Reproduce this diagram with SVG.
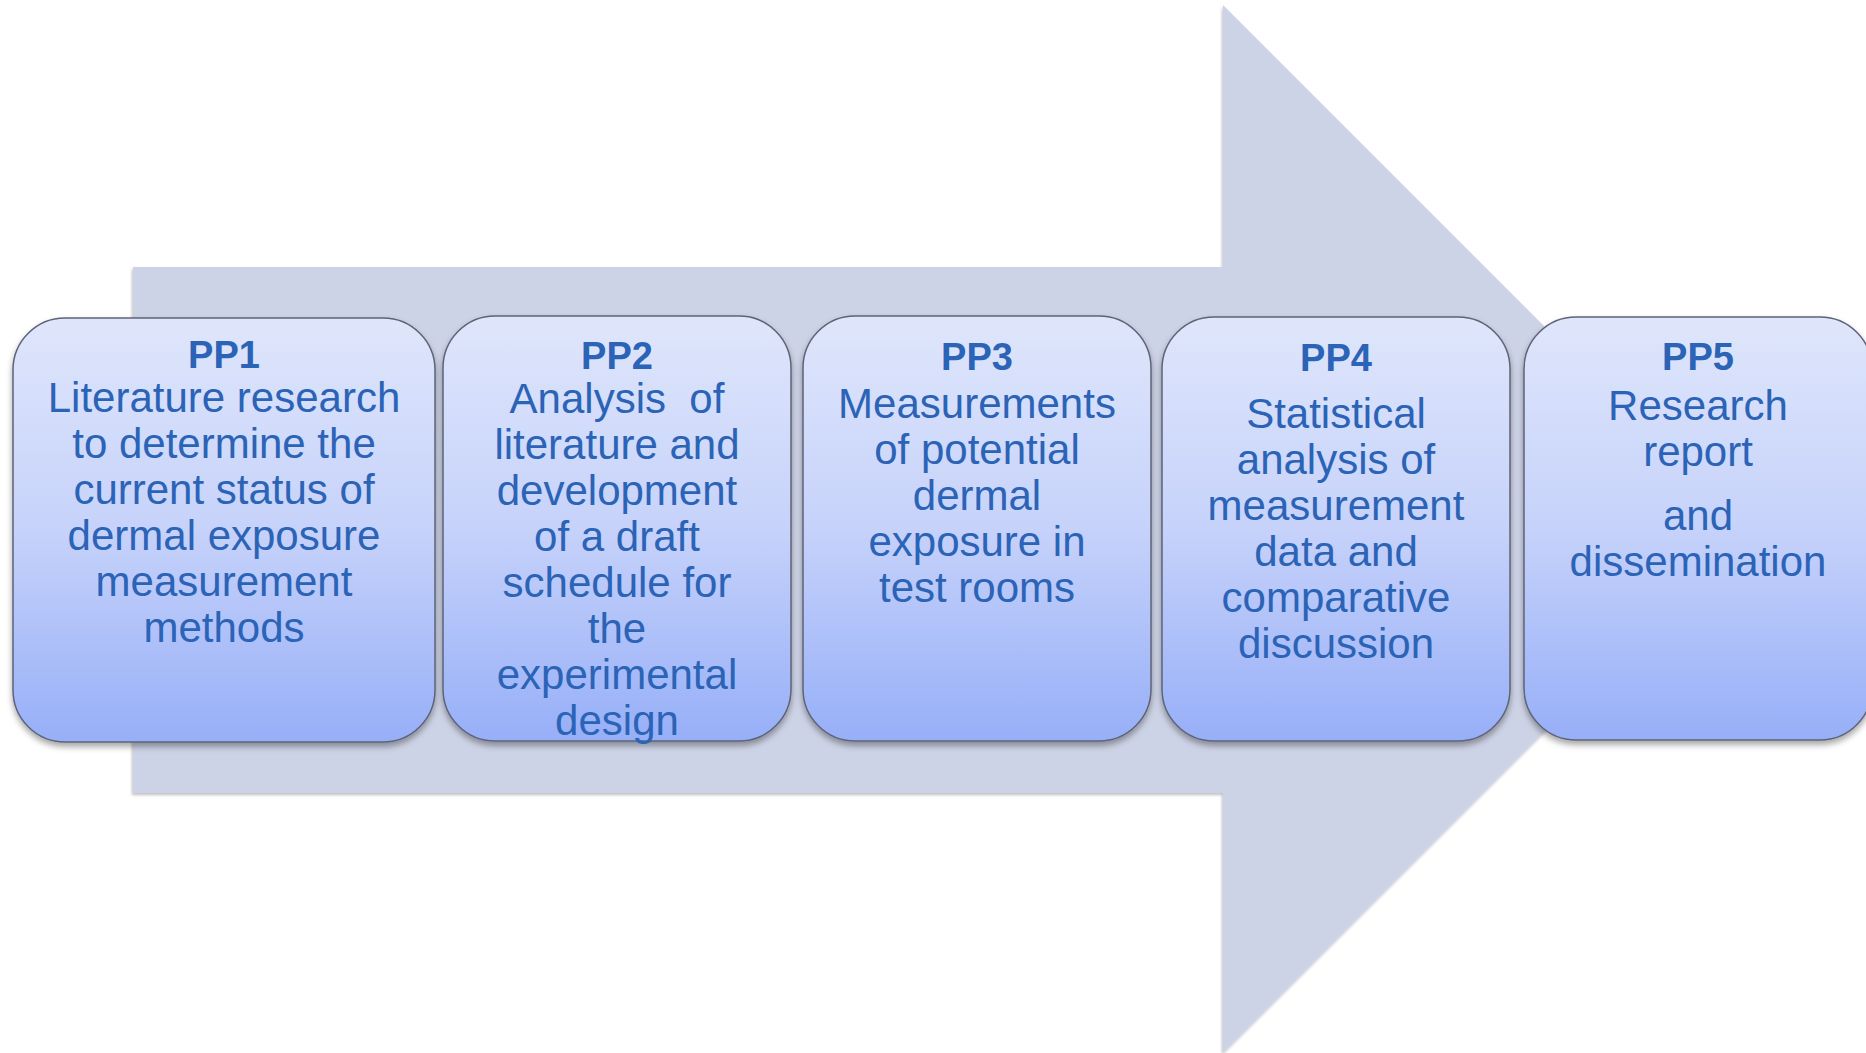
<svg xmlns="http://www.w3.org/2000/svg" width="1866" height="1053" viewBox="0 0 1866 1053">
<defs>
<style>
.box{fill:url(#boxGrad);stroke:#5E6378;stroke-width:1.5;filter:url(#shadow)}
.t{font-family:"Liberation Sans",Arial,sans-serif;fill:#2B63B6;text-anchor:middle}
.title{font-size:38px;font-weight:bold}
.body{font-size:42px}
</style>
<linearGradient id="boxGrad" x1="0" y1="0" x2="0" y2="1">
<stop offset="0" stop-color="#DFE6FB"/>
<stop offset="0.5" stop-color="#C6D2FA"/>
<stop offset="1" stop-color="#97AFF8"/>
</linearGradient>
<filter id="shadow" x="-10%" y="-10%" width="120%" height="125%">
<feDropShadow dx="0" dy="4" stdDeviation="3" flood-color="#000" flood-opacity="0.35"/>
</filter>
<filter id="arrowShadow" x="-5%" y="-5%" width="110%" height="110%">
<feDropShadow dx="-1" dy="2" stdDeviation="1.5" flood-color="#000" flood-opacity="0.25"/>
</filter>
</defs>
<rect width="1866" height="1053" fill="#FFFFFF"/>
<path id="arrow" d="M133,267 L1223,267 L1223,5 L1747,529 L1223,1053 L1223,793 L133,793 Z" fill="#CDD3E6" filter="url(#arrowShadow)"/>
<g id="connectors"></g>
<g id="pp1">
<rect class="box" x="13" y="318" width="422" height="424" rx="52" ry="52"/>
<text class="t title" x="224" y="368">PP1</text>
<text class="t body"><tspan x="224" y="412">Literature research</tspan><tspan x="224" y="458">to determine the</tspan><tspan x="224" y="504">current status of</tspan><tspan x="224" y="550">dermal exposure</tspan><tspan x="224" y="596">measurement</tspan><tspan x="224" y="642">methods</tspan></text>
</g>
<g id="pp2">
<rect class="box" x="443" y="316" width="348" height="425" rx="52" ry="52"/>
<text class="t title" x="617" y="369">PP2</text>
<text class="t body" xml:space="preserve"><tspan x="617" y="413">Analysis  of</tspan><tspan x="617" y="459">literature and</tspan><tspan x="617" y="505">development</tspan><tspan x="617" y="551">of a draft</tspan><tspan x="617" y="597">schedule for</tspan><tspan x="617" y="643">the</tspan><tspan x="617" y="689">experimental</tspan><tspan x="617" y="735">design</tspan></text>
</g>
<g id="pp3">
<rect class="box" x="803" y="316" width="348" height="425" rx="52" ry="52"/>
<text class="t title" x="977" y="370">PP3</text>
<text class="t body"><tspan x="977" y="418">Measurements</tspan><tspan x="977" y="464">of potential</tspan><tspan x="977" y="510">dermal</tspan><tspan x="977" y="556">exposure in</tspan><tspan x="977" y="602">test rooms</tspan></text>
</g>
<g id="pp4">
<rect class="box" x="1162" y="317" width="348" height="424" rx="52" ry="52"/>
<text class="t title" x="1336" y="371">PP4</text>
<text class="t body"><tspan x="1336" y="428">Statistical</tspan><tspan x="1336" y="474">analysis of</tspan><tspan x="1336" y="520">measurement</tspan><tspan x="1336" y="566">data and</tspan><tspan x="1336" y="612">comparative</tspan><tspan x="1336" y="658">discussion</tspan></text>
</g>
<g id="pp5">
<rect class="box" x="1524" y="317" width="348" height="423" rx="52" ry="52"/>
<text class="t title" x="1698" y="370">PP5</text>
<text class="t body"><tspan x="1698" y="420">Research</tspan><tspan x="1698" y="466">report</tspan><tspan x="1698" y="530">and</tspan><tspan x="1698" y="576">dissemination</tspan></text>
</g>
</svg>
